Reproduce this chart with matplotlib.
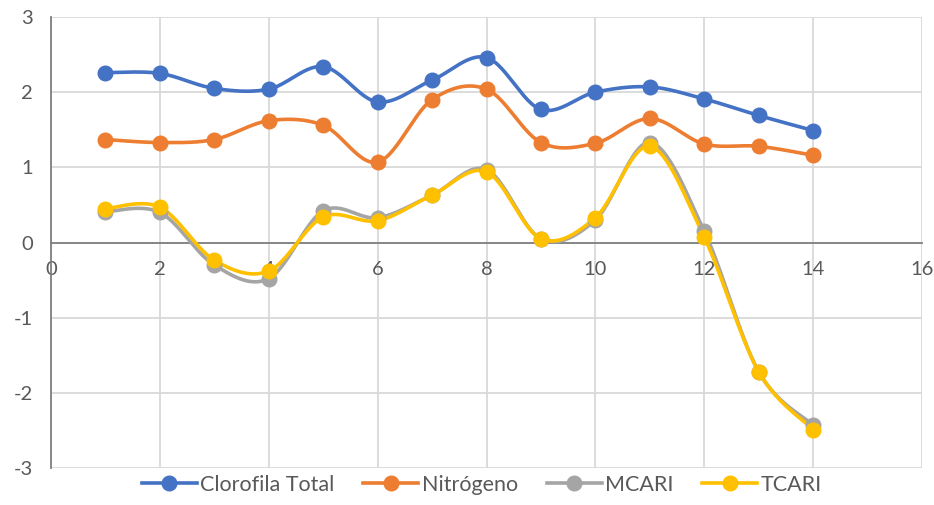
import numpy as np
import matplotlib.pyplot as plt
from matplotlib.lines import Line2D

# ── DATA ──────────────────────────────────────────────────────
x_vals = [1, 2, 3, 4, 5, 6, 7, 8, 9, 10, 11, 12, 13, 14]
clorofila = [2.26, 2.25, 2.05, 2.04, 2.34, 1.87, 2.16, 2.46, 1.77, 2.00, 2.07, 1.91, 1.69, 1.49]
nitrogeno = [1.37, 1.33, 1.37, 1.62, 1.56, 1.07, 1.90, 2.04, 1.33, 1.32, 1.65, 1.31, 1.28, 1.16]
mcari     = [0.41, 0.40, -0.30, -0.48, 0.42, 0.33, 0.63, 0.97, 0.05, 0.30, 1.33, 0.15, -1.72, -2.43]
tcari     = [0.45, 0.47, -0.235, -0.38, 0.34, 0.29, 0.63, 0.94, 0.05, 0.33, 1.28, 0.07, -1.72, -2.49]

series_names  = ["Clorofila Total", "Nitrógeno", "MCARI", "TCARI"]
series_colors = ["#4472C4", "#ED7D31", "#A5A5A5", "#FFC000"]

plt.rcParams["font.family"] = ["Lato", "DejaVu Sans"]
plt.rcParams["axes.unicode_minus"] = False
TXT = "#595959"


def smooth(xs, ys, n=30):
    # Excel-style smoothed line: cubic Bezier with Catmull-Rom control points
    xs = np.asarray(xs, float)
    ys = np.asarray(ys, float)
    px = np.concatenate([[xs[0]], xs, [xs[-1]]])
    py = np.concatenate([[ys[0]], ys, [ys[-1]]])
    t = np.linspace(0, 1, n)[:, None]
    out_x, out_y = [], []
    for i in range(1, len(px) - 2):
        p0 = np.array([px[i], py[i]])
        p3 = np.array([px[i + 1], py[i + 1]])
        c1 = p0 + (np.array([px[i + 1], py[i + 1]]) - np.array([px[i - 1], py[i - 1]])) / 6
        c2 = p3 - (np.array([px[i + 2], py[i + 2]]) - np.array([px[i], py[i]])) / 6
        b = ((1 - t) ** 3) * p0 + 3 * ((1 - t) ** 2) * t * c1 + 3 * (1 - t) * t ** 2 * c2 + t ** 3 * p3
        out_x.append(b[:, 0])
        out_y.append(b[:, 1])
    return np.concatenate(out_x), np.concatenate(out_y)


fig = plt.figure(figsize=(9.34, 5.05), dpi=100)
ax = fig.add_axes([51 / 934, 1 - 468 / 505, (922 - 51) / 934, (468 - 17) / 505])

for ys, col in zip([clorofila, nitrogeno, mcari, tcari], series_colors):
    sx, sy = smooth(x_vals, ys)
    ax.plot(sx, sy, color=col, lw=2.6, solid_capstyle="round", zorder=3)
    ax.plot(x_vals, ys, ls="none", marker="o", ms=10.5, color=col, zorder=4)

ax.set_xlim(0, 16)
ax.set_ylim(-3, 3)
ax.set_xticks(range(0, 17, 2))
ax.set_yticks(range(-3, 4))
ax.grid(True, color="#D9D9D9", lw=1.3, zorder=0)
ax.set_axisbelow(True)

for s in ["top", "right"]:
    ax.spines[s].set_visible(False)
ax.spines["bottom"].set_position(("data", 0))
ax.spines["bottom"].set_color("#7F7F7F")
ax.spines["left"].set_color("#7F7F7F")
ax.spines["bottom"].set_linewidth(1.3)
ax.spines["left"].set_linewidth(1.3)
ax.tick_params(length=0, labelsize=14.5, labelcolor=TXT)
ax.tick_params(axis="x", pad=13)
ax.tick_params(axis="y", pad=13)

handles = [Line2D([], [], color=c, lw=2.6, marker="o", ms=10.5) for c in series_colors]
fig.legend(handles, series_names, loc="lower center", bbox_to_anchor=(0.516, -0.018),
           ncol=4, frameon=False, fontsize=15.5, labelcolor=TXT,
           handlelength=2.55, columnspacing=1.35, handletextpad=0.15)

fig.savefig("out.png", dpi=100)
